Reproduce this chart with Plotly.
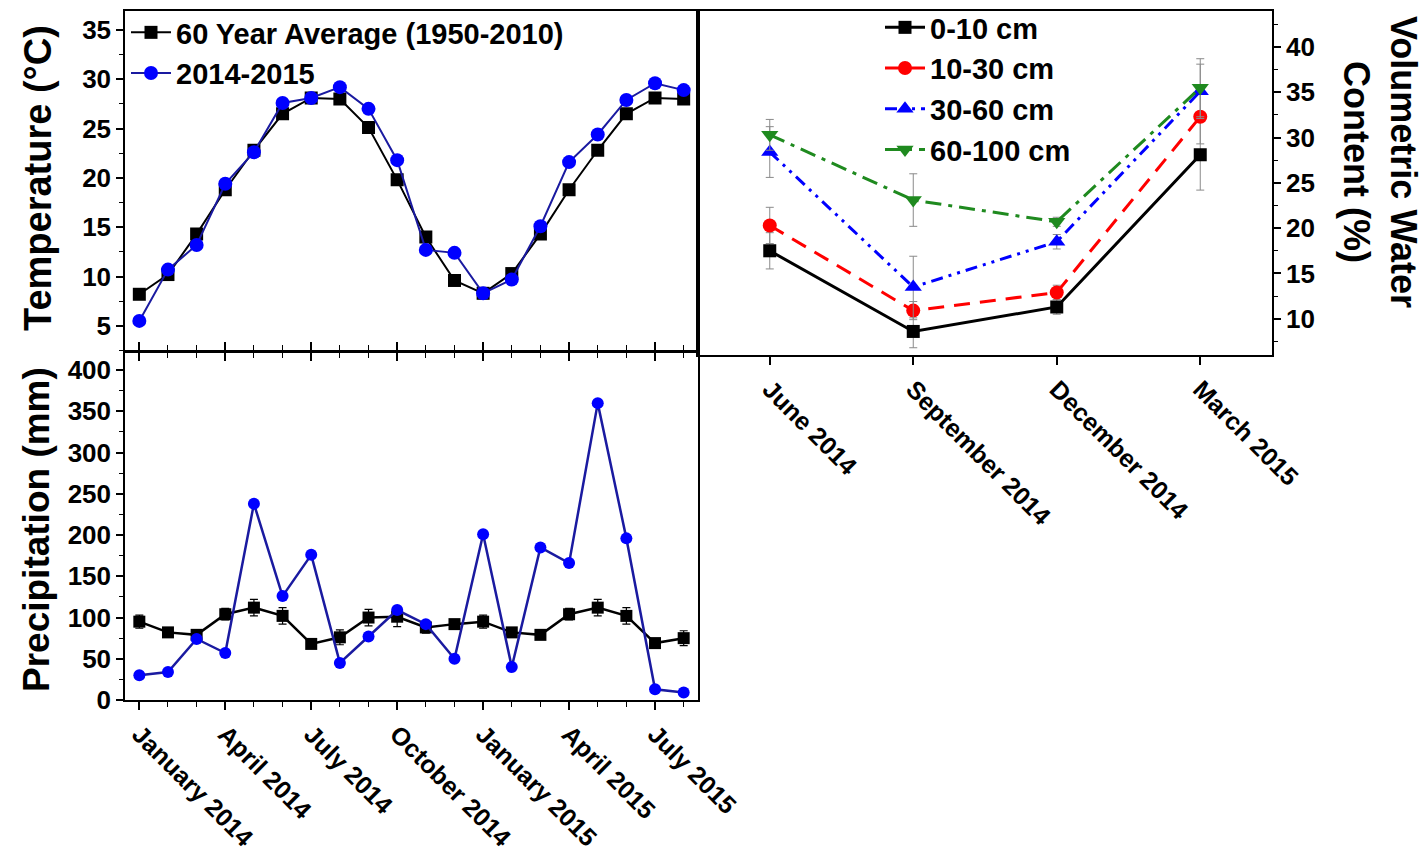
import plotly.graph_objects as go

# ---------------- data ----------------
month_index = list(range(20))  # January 2014 ... August 2015
major_tick_idx = [0, 3, 6, 9, 12, 15, 18]
major_tick_labels = ["January 2014", "April 2014", "July 2014", "October 2014",
                     "January 2015", "April 2015", "July 2015"]

temp_avg = [8.2, 10.2, 14.3, 18.8, 22.8, 26.5, 28.1, 28.0, 25.1, 19.8,
            14.0, 9.6, 8.3, 10.3, 14.3, 18.8, 22.8, 26.5, 28.1, 28.0]
temp_obs = [5.5, 10.7, 13.2, 19.4, 22.6, 27.6, 28.1, 29.2, 27.0, 21.8,
            12.7, 12.4, 8.3, 9.7, 15.1, 21.6, 24.4, 27.9, 29.6, 28.9]

precip_avg = [95, 82, 79, 104, 112, 102, 68, 76, 100, 101,
              88, 92, 95, 82, 79, 104, 112, 102, 69, 75]
precip_err = [8, 4, 5, 7, 10, 10, 5, 9, 10, 12,
              7, 5, 8, 4, 4, 7, 10, 10, 5, 9]
precip_obs = [30, 34, 74, 57, 238, 126, 176, 45, 77, 109,
              92, 50, 201, 40, 185, 166, 360, 196, 13, 9]

vwc_cats = ["June 2014", "September 2014", "December 2014", "March 2015"]
vwc_0_10 = [17.5, 8.6, 11.3, 28.1]
vwc_0_10_err = [2.0, 1.8, 0.8, 3.9]
vwc_10_30 = [20.3, 10.9, 12.9, 32.3]
vwc_10_30_err = [2.0, 1.0, 0.8, 3.0]
vwc_30_60 = [28.4, 13.5, 18.5, 35.1]
vwc_30_60_err = [2.8, 3.4, 0.8, 3.0]
vwc_60_100 = [30.3, 23.1, 20.7, 35.5]
vwc_60_100_err = [1.7, 2.9, 0.5, 3.2]

# ---------------- figure ----------------
W, H = 1423, 854
FONT = "Arial, Liberation Sans, sans-serif"
BLUE_LINE = "#1a1aa0"
BLUE_MK = "#0000ff"

fig = go.Figure()

# Top-left: temperature
fig.add_trace(go.Scatter(x=month_index, y=temp_avg, name="60 Year Average (1950-2010)",
                         mode="lines+markers", xaxis="x", yaxis="y",
                         line=dict(color="black", width=2),
                         marker=dict(symbol="square", size=13, color="black"),
                         legend="legend"))
fig.add_trace(go.Scatter(x=month_index, y=temp_obs, name="2014-2015",
                         mode="lines+markers", xaxis="x", yaxis="y",
                         line=dict(color=BLUE_LINE, width=2),
                         marker=dict(symbol="circle", size=14, color=BLUE_MK),
                         legend="legend"))

# Bottom-left: precipitation
fig.add_trace(go.Scatter(x=month_index, y=precip_avg, name="60 Year Average (1950-2010)",
                         mode="lines+markers", xaxis="x2", yaxis="y2", showlegend=False,
                         line=dict(color="black", width=2.5),
                         marker=dict(symbol="square", size=12, color="black"),
                         error_y=dict(type="data", array=precip_err, color="black",
                                      thickness=1.2, width=4)))
fig.add_trace(go.Scatter(x=month_index, y=precip_obs, name="2014-2015",
                         mode="lines+markers", xaxis="x2", yaxis="y2", showlegend=False,
                         line=dict(color=BLUE_LINE, width=2.5),
                         marker=dict(symbol="circle", size=12, color=BLUE_MK)))

# Right: volumetric water content
vwc_series = [
    ("0-10 cm", vwc_0_10, vwc_0_10_err, "black", "solid", "square", 13),
    ("10-30 cm", vwc_10_30, vwc_10_30_err, "#ff0000", "16px,10px", "circle", 14),
    ("30-60 cm", vwc_30_60, vwc_30_60_err, "#0000ff", "12px,6px,3px,6px,3px,6px", "triangle-up", 15),
    ("60-100 cm", vwc_60_100, vwc_60_100_err, "#1f8a1f", "16px,7px,4px,7px", "triangle-down", 15),
]
for name, vals, errs, col, dash, sym, size in vwc_series:
    fig.add_trace(go.Scatter(x=vwc_cats, y=vals, name=name, mode="lines+markers",
                             xaxis="x3", yaxis="y3", legend="legend2",
                             line=dict(color=col, width=3, dash=dash),
                             marker=dict(symbol=sym, size=size, color=col),
                             error_y=dict(type="data", array=errs, color="#8a8a8a",
                                          thickness=1, width=4)))

tickfont = dict(family=FONT, size=26, color="black", weight="bold")
xtickfont = dict(family=FONT, size=25, color="black", weight="bold")
axline = dict(showline=True, linecolor="black", linewidth=1.5, showgrid=False,
              zeroline=False, automargin=False, tickcolor="black", tickwidth=1.5)

xl = [125 / W, 698 / W]
xr = [698 / W, 1272 / W]
y_top = [1 - 351 / H, 1 - 10.7 / H]
y_bot = [1 - 700 / H, 1 - 352 / H]
y_right = [1 - 355 / H, 1 - 10.7 / H]

fig.update_layout(
    width=W, height=H,
    margin=dict(l=0, r=0, t=0, b=0),
    paper_bgcolor="white", plot_bgcolor="white",
    font=dict(family=FONT, color="black"),
    xaxis=dict(domain=xl, anchor="y", range=[-0.5, 19.5], mirror=True,
               tickmode="array", tickvals=major_tick_idx, showticklabels=False,
               ticks="outside", ticklen=8,
               minor=dict(tickmode="array", tickvals=month_index, ticks="outside",
                          ticklen=5, tickcolor="black", tickwidth=1.2),
               **axline),
    yaxis=dict(domain=y_top, anchor="x", range=[2.45, 36.95], mirror=True,
               tickmode="linear", tick0=5, dtick=5, ticks="outside", ticklen=7,
               tickfont=tickfont,
               minor=dict(tickmode="linear", tick0=2.5, dtick=2.5, ticks="outside",
                          ticklen=4, tickcolor="black", tickwidth=1.2),
               **axline),
    xaxis2=dict(domain=xl, anchor="y2", range=[-0.5, 19.5], mirror="ticks",
                tickmode="array", tickvals=major_tick_idx, ticktext=major_tick_labels,
                tickangle=45, ticks="outside", ticklen=8, tickfont=xtickfont,
                minor=dict(tickmode="array", tickvals=month_index, ticks="outside",
                           ticklen=5, tickcolor="black", tickwidth=1.2),
                **axline),
    yaxis2=dict(domain=y_bot, anchor="x2", range=[0, 422], mirror=True,
                tickmode="linear", tick0=0, dtick=50, ticks="outside", ticklen=7,
                tickfont=tickfont,
                minor=dict(tickmode="linear", tick0=0, dtick=25, ticks="outside",
                           ticklen=4, tickcolor="black", tickwidth=1.2),
                **axline),
    xaxis3=dict(domain=xr, anchor="y3", type="category", range=[-0.5, 3.5], mirror=True,
                ticks="outside", ticklen=8, tickangle=45, tickfont=xtickfont,
                **axline),
    yaxis3=dict(domain=y_right, anchor="x3", side="right", range=[6, 44], mirror=True,
                tickmode="linear", tick0=10, dtick=5, ticks="outside", ticklen=7,
                tickfont=tickfont,
                minor=dict(tickmode="linear", tick0=7.5, dtick=2.5, ticks="outside",
                           ticklen=4, tickcolor="black", tickwidth=1.2),
                **axline),
    legend=dict(x=126 / W, y=1 - 7 / H, xanchor="left", yanchor="top",
                bgcolor="rgba(0,0,0,0)", borderwidth=0,
                font=dict(family=FONT, size=29, color="black", weight="bold"),
                itemwidth=40, tracegroupgap=0),
    legend2=dict(x=880 / W, y=1 - 2 / H, xanchor="left", yanchor="top",
                 bgcolor="rgba(0,0,0,0)", borderwidth=0,
                 font=dict(family=FONT, size=29, color="black", weight="bold"),
                 itemwidth=40, tracegroupgap=0),
    annotations=[
        dict(text="Temperature (°C)", x=38 / W, y=1 - 178 / H, xref="paper", yref="paper",
             textangle=-90, showarrow=False, xanchor="center", yanchor="middle",
             font=dict(family=FONT, size=38, color="black", weight="bold")),
        dict(text="Precipitation (mm)", x=36 / W, y=1 - 530 / H, xref="paper", yref="paper",
             textangle=-90, showarrow=False, xanchor="center", yanchor="middle",
             font=dict(family=FONT, size=37, color="black", weight="bold")),
        dict(text="Volumetric Water<br>Content (%)", x=1380 / W, y=1 - 162 / H,
             xref="paper", yref="paper", textangle=90, showarrow=False,
             xanchor="center", yanchor="middle",
             font=dict(family=FONT, size=36, color="black", weight="bold")),
    ],
)

fig.write_html("out.html")
